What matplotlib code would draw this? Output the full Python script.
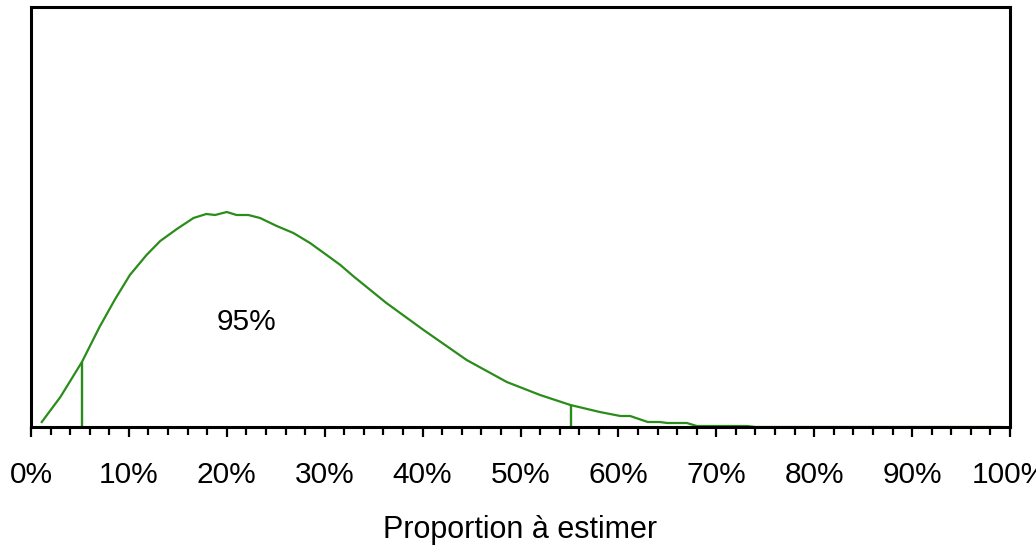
import numpy as np
import matplotlib.pyplot as plt
from matplotlib.ticker import MultipleLocator, PercentFormatter

plt.rcParams['font.family'] = ['Liberation Sans', 'DejaVu Sans']

# curve (height in arbitrary units)
prop = [0.011, 0.030, 0.052, 0.070, 0.086, 0.101, 0.118, 0.132, 0.149, 0.166,
        0.179, 0.188, 0.200, 0.210, 0.222, 0.234, 0.251, 0.268, 0.285, 0.302,
        0.316, 0.329, 0.363, 0.401, 0.445, 0.486, 0.520, 0.551, 0.581, 0.602,
        0.612, 0.630, 0.642, 0.650, 0.670, 0.680, 0.731, 0.740, 0.990]
height = [5, 30, 65, 100, 128, 152, 172, 186, 198, 209,
          213, 212, 215, 212, 212, 209, 201, 194, 184, 172,
          162, 151, 124, 97, 67, 45, 32, 22, 15, 11,
          11, 5, 5, 4, 4, 1, 1, 0, 0]

# bounds of the 95% interval
ci_low = 0.052
ci_high = 0.552
ci_text = '95%'

green = '#2a8c1a'

fig = plt.figure(figsize=(10.36, 5.46), dpi=100)
ax = fig.add_axes([31 / 1036, 1 - 427 / 546, 979 / 1036, 420 / 546])

ax.plot(prop, height, color=green, lw=1.6)
for b in [ci_low, ci_high]:
    ax.vlines(b, 0, np.interp(b, prop, height), color=green, lw=1.7)
ax.text(0.22, 105, ci_text, fontsize=21.5, ha='center', va='center')

ax.set_xlim(0, 1)
ax.set_ylim(0, 420)
ax.set_yticks([])
ax.xaxis.set_major_locator(MultipleLocator(0.1))
ax.xaxis.set_minor_locator(MultipleLocator(0.02))
ax.xaxis.set_major_formatter(PercentFormatter(1.0, decimals=0))
ax.tick_params(axis='x', which='major', length=7.5, width=1.6, labelsize=21.5, pad=17)
ax.tick_params(axis='x', which='minor', length=6, width=1.6)
for s in ax.spines.values():
    s.set_linewidth(2.2)
ax.set_xlabel('Proportion à estimer', fontsize=22, labelpad=19)

fig.savefig('out.png', dpi=100)
